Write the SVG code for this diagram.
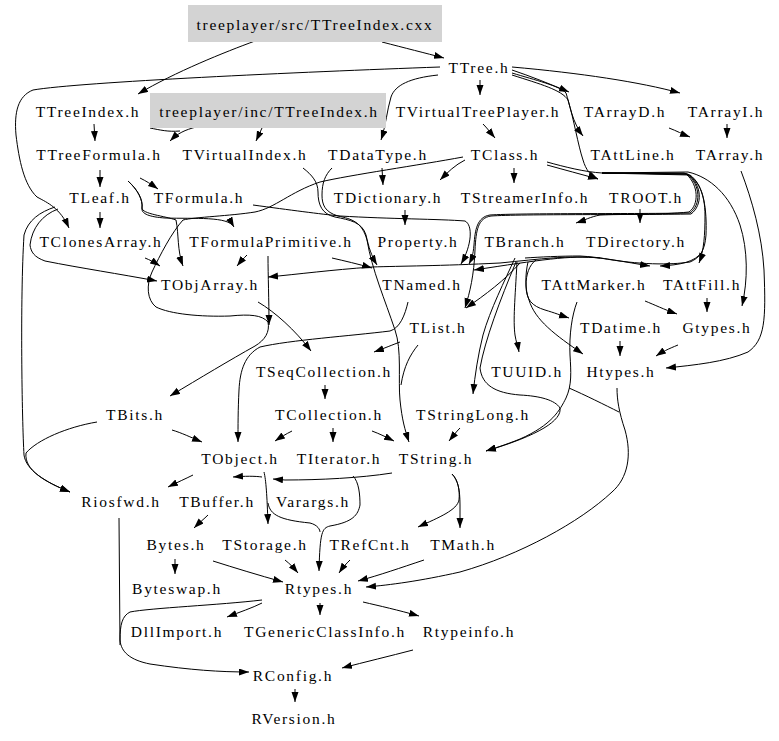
<svg xmlns="http://www.w3.org/2000/svg" width="779" height="741" viewBox="0 0 779 741">
<style>
text{font-family:"Liberation Serif","Times New Roman",serif;font-size:15.5px;letter-spacing:1.7px;fill:#000;text-anchor:middle}
.e{fill:none;stroke:#000;stroke-width:1;marker-end:url(#a)}
.j{fill:none;stroke:#000;stroke-width:1}
.g{fill:#d3d3d3;stroke:none}
</style>
<defs>
<marker id="a" markerWidth="10" markerHeight="8" refX="10" refY="3.5" orient="auto" markerUnits="userSpaceOnUse"><path d="M0,0 L10,3.5 L0,7 z" fill="#000"/></marker>
</defs>
<rect width="779" height="741" fill="#fff"/>
<g id="edges">
<path class="e" d="M255,41 C225,52 175,72 138,94"/>
<path class="e" d="M382,42 C405,48 425,53 444,58"/>
<path class="e" d="M440,67 C300,72 80,82 33,90 C18,96 14,112 16,135 C19,160 24,185 37,197 C48,203 60,208 69,228"/>
<path class="e" d="M438,75 C410,78 395,85 391,97 C387,110 386,125 381,140"/>
<path class="e" d="M480,80 L480,95"/>
<path class="e" d="M512,70 C530,76 550,84 569,92"/>
<path class="e" d="M512,73 C535,80 560,86 566,93 C570,105 572,122 583,136"/>
<path class="e" d="M512,67 C580,73 640,82 680,93"/>
<path class="e" d="M512,75 C540,84 562,90 568,100 C574,120 578,145 583,160 C586,170 590,175 598,179"/>
<path class="e" d="M669,128 C677,131 682,134 690,137"/>
<path class="e" d="M727,124 L727,138"/>
<path class="e" d="M483,124 C487,128 490,132 495,138"/>
<path class="e" d="M94,124 L95,141"/>
<path class="e" d="M196,127 C185,130 178,133 170,141"/>
<path class="j" d="M150,128 C160,130 168,132 180,131"/>
<path class="e" d="M262,128 L256,141"/>
<path class="e" d="M100,170 L100,187"/>
<path class="e" d="M140,178 C146,181 151,184 158,189"/>
<path class="e" d="M128,181 C138,190 143,200 142,208 C141,214 150,217 165,218 C195,219 228,216 234,227"/>
<path class="e" d="M128,181 C138,190 143,200 142,208 C142,214 165,216 176,220 C179,235 177,250 183,266"/>
<path class="e" d="M100,212 L100,228"/>
<path class="e" d="M55,207 C40,212 28,220 24,235 C20,300 22,420 24,455 C26,470 45,482 70,492"/>
<path class="e" d="M58,209 C42,215 32,228 30,245 C31,252 34,257 45,261 C80,268 120,274 157,281"/>
<path class="e" d="M97,422 C67,427 37,440 26,453 C24,470 45,482 70,492"/>
<path class="e" d="M145,258 C150,260 154,262 160,266"/>
<path class="e" d="M247,255 C244,258 241,261 237,266"/>
<path class="e" d="M463,157 C420,165 350,175 320,182 C290,192 275,208 255,212 C230,216 195,217 183,220 C172,232 160,255 152,272 C146,285 147,300 156,307 C170,314 200,317 230,316 C250,314 262,315 268,322 C270,332 265,340 255,346 C230,360 200,378 170,396"/>
<path class="e" d="M268,256 C268,275 269,300 269,325"/>
<path class="e" d="M465,160 C455,165 448,172 440,180"/>
<path class="e" d="M514,168 L514,183"/>
<path class="e" d="M547,165 C565,170 580,174 598,179"/>
<path class="j" d="M547,162 C565,167 585,172 602,173"/>
<path class="e" d="M382,168 L383,185"/>
<path class="e" d="M303,168 C312,175 318,182 318,192 C318,205 322,214 335,217 C350,220 362,222 366,235 C369,248 371,255 377,265"/>
<path class="e" d="M332,168 C325,175 322,183 322,195 C322,205 325,212 338,216 C352,219 362,222 367,240 C372,270 385,300 395,330 C402,350 398,380 400,400 C402,420 405,430 409,442"/>
<path class="e" d="M405,210 L405,225"/>
<path class="e" d="M253,205 C290,210 320,214 340,216 C390,219 440,219 465,221 C473,225 472,245 461,264"/>
<path class="e" d="M602,173 L688,172 C710,177 730,195 740,225 C748,250 748,280 742,306"/>
<path class="e" d="M602,173 L684,173 C699,178 705,195 705,215 C705,235 704,250 699,263"/>
<path class="e" d="M640,209 L640,223"/>
<path class="e" d="M602,173 L686,174 C699,185 699,205 689,212 C660,215 620,214 600,215 C590,217 585,220 576,223"/>
<path class="e" d="M602,173 L687,174 C701,185 701,205 690,213 C640,214 520,213 490,215 C477,217 475,230 474,245 C473,255 472,258 469,264"/>
<path class="e" d="M602,173 L688,174 C702,185 703,205 691,214 C640,215 520,214 491,216 C478,218 476,230 475,250 C474,275 470,292 465,308"/>
<path class="e" d="M602,173 L690,175 C704,185 707,210 706,235 C705,250 700,258 690,262 C670,265 640,265 600,258 C570,255 540,260 474,270"/>
<path class="e" d="M600,258 C570,255 540,259 500,263 C440,266 400,266 372,267 C330,270 300,274 268,277"/>
<path class="e" d="M702,252 C695,262 680,265 660,266"/>
<path class="e" d="M525,258 C540,257 560,256 580,256 C600,257 625,262 650,266"/>
<path class="e" d="M332,258 C345,261 358,264 372,268"/>
<path class="e" d="M520,263 C505,280 485,295 466,308"/>
<path class="e" d="M515,258 C505,280 490,310 483,335 C478,355 475,375 473,394"/>
<path class="e" d="M517,262 C515,300 513,320 515,335 C516,342 518,346 519,352"/>
<path class="e" d="M516,262 C500,300 485,340 480,368 C482,385 495,393 520,395 C540,396 555,400 560,408 C562,420 540,435 486,451"/>
<path class="e" d="M536,260 C529,265 526,275 526,285 C526,300 532,306 545,310 C555,313 560,315 569,318"/>
<path class="e" d="M528,262 C525,275 525,290 529,300 C535,320 555,335 583,354"/>
<path class="e" d="M645,301 C655,305 663,309 677,314"/>
<path class="e" d="M707,298 L707,312"/>
<path class="e" d="M577,302 C572,315 569,335 570,355 C571,372 572,385 566,398 C560,410 552,425 520,439 C505,445 495,448 486,451"/>
<path class="j" d="M569,388 C585,395 605,405 619,412"/>
<path class="e" d="M620,341 L620,356"/>
<path class="e" d="M678,345 C668,349 662,352 656,356"/>
<path class="e" d="M741,171 C752,200 762,235 764,270 C766,320 765,340 748,352 C725,362 695,365 666,368"/>
<path class="e" d="M617,388 C617,400 619,412 625,430 C632,455 628,478 612,492 C580,522 520,555 460,572 C420,581 390,585 366,587"/>
<path class="e" d="M400,342 C392,345 385,348 374,352"/>
<path class="e" d="M258,302 C275,312 295,330 311,351"/>
<path class="e" d="M325,385 L325,399"/>
<path class="e" d="M292,431 C286,434 281,437 275,441"/>
<path class="e" d="M333,428 L333,442"/>
<path class="e" d="M372,431 C380,434 386,437 394,441"/>
<path class="e" d="M460,428 C456,432 453,436 449,441"/>
<path class="e" d="M172,430 C182,433 190,437 202,442"/>
<path class="e" d="M408,302 C405,315 400,328 390,331 C350,336 290,340 260,347 C245,355 240,370 239,390 C238,410 238,425 238,442"/>
<path class="j" d="M418,345 C410,355 404,366 401,385"/>
<path class="e" d="M193,475 C185,479 178,482 168,487"/>
<path class="e" d="M392,473 C360,478 320,480 285,480 L273,479"/>
<path class="e" d="M262,477 C255,476 245,476 233,477"/>
<path class="e" d="M264,472 C266,480 267,495 268,524"/>
<path class="j" d="M268,503 C270,515 280,520 310,523 C318,525 320,530 320,532"/>
<path class="e" d="M353,476 C359,482 360,495 360,505 C358,515 353,522 330,526 C322,528 320,532 319,571"/>
<path class="e" d="M452,474 C458,480 460,490 459,500 C457,510 440,517 418,527"/>
<path class="e" d="M452,474 C458,480 460,490 460,505 L460,528"/>
<path class="e" d="M208,515 C204,519 200,522 194,528"/>
<path class="e" d="M175,559 L175,574"/>
<path class="e" d="M213,561 C235,568 258,575 283,582"/>
<path class="e" d="M285,560 C290,564 293,567 298,573"/>
<path class="e" d="M350,560 C346,564 343,567 339,573"/>
<path class="e" d="M424,560 C400,568 380,575 358,581"/>
<path class="e" d="M262,603 C252,608 240,612 227,617"/>
<path class="e" d="M320,603 L320,615"/>
<path class="e" d="M363,602 C380,606 398,610 419,616"/>
<path class="e" d="M262,600 C220,605 150,608 130,612 C122,616 120,625 120,640 C121,652 130,660 150,664 C190,670 220,672 249,672"/>
<path class="j" d="M119,518 L120,645"/>
<path class="e" d="M413,650 C390,656 365,662 342,668"/>
<path class="e" d="M295,689 L295,702"/>
</g>
<g id="n_cxx"><rect class="g" x="188" y="5" width="254" height="37"/><text x="315" y="30">treeplayer/src/TTreeIndex.cxx</text></g>
<g id="n_TTree"><text x="479" y="73">TTree.h</text></g>
<g id="n_TTreeIndex"><text x="88" y="117">TTreeIndex.h</text></g>
<g id="n_inc"><rect class="g" x="150" y="93" width="236" height="35"/><text x="269" y="117">treeplayer/inc/TTreeIndex.h</text></g>
<g id="n_TVirtualTreePlayer"><text x="478" y="117">TVirtualTreePlayer.h</text></g>
<g id="n_TArrayD"><text x="625" y="117">TArrayD.h</text></g>
<g id="n_TArrayI"><text x="726" y="117">TArrayI.h</text></g>
<g id="n_TTreeFormula"><text x="99" y="160">TTreeFormula.h</text></g>
<g id="n_TVirtualIndex"><text x="245" y="160">TVirtualIndex.h</text></g>
<g id="n_TDataType"><text x="378" y="160">TDataType.h</text></g>
<g id="n_TClass"><text x="505" y="160">TClass.h</text></g>
<g id="n_TAttLine"><text x="633" y="160">TAttLine.h</text></g>
<g id="n_TArray"><text x="730" y="160">TArray.h</text></g>
<g id="n_TLeaf"><text x="100" y="203">TLeaf.h</text></g>
<g id="n_TFormula"><text x="199" y="203">TFormula.h</text></g>
<g id="n_TDictionary"><text x="388" y="203">TDictionary.h</text></g>
<g id="n_TStreamerInfo"><text x="525" y="203">TStreamerInfo.h</text></g>
<g id="n_TROOT"><text x="646" y="203">TROOT.h</text></g>
<g id="n_TClonesArray"><text x="101" y="247">TClonesArray.h</text></g>
<g id="n_TFormulaPrimitive"><text x="271" y="247">TFormulaPrimitive.h</text></g>
<g id="n_Property"><text x="418" y="247">Property.h</text></g>
<g id="n_TBranch"><text x="525" y="247">TBranch.h</text></g>
<g id="n_TDirectory"><text x="636" y="247">TDirectory.h</text></g>
<g id="n_TObjArray"><text x="210" y="290">TObjArray.h</text></g>
<g id="n_TNamed"><text x="422" y="290">TNamed.h</text></g>
<g id="n_TAttMarker"><text x="594" y="290">TAttMarker.h</text></g>
<g id="n_TAttFill"><text x="702" y="290">TAttFill.h</text></g>
<g id="n_TList"><text x="438" y="333">TList.h</text></g>
<g id="n_TDatime"><text x="621" y="333">TDatime.h</text></g>
<g id="n_Gtypes"><text x="717" y="333">Gtypes.h</text></g>
<g id="n_TSeqCollection"><text x="324" y="377">TSeqCollection.h</text></g>
<g id="n_TUUID"><text x="527" y="377">TUUID.h</text></g>
<g id="n_Htypes"><text x="621" y="377">Htypes.h</text></g>
<g id="n_TBits"><text x="135" y="420">TBits.h</text></g>
<g id="n_TCollection"><text x="329" y="420">TCollection.h</text></g>
<g id="n_TStringLong"><text x="473" y="420">TStringLong.h</text></g>
<g id="n_TObject"><text x="240" y="464">TObject.h</text></g>
<g id="n_TIterator"><text x="339" y="464">TIterator.h</text></g>
<g id="n_TString"><text x="436" y="464">TString.h</text></g>
<g id="n_Riosfwd"><text x="121" y="507">Riosfwd.h</text></g>
<g id="n_TBuffer"><text x="217" y="507">TBuffer.h</text></g>
<g id="n_Varargs"><text x="313" y="507">Varargs.h</text></g>
<g id="n_Bytes"><text x="176" y="550">Bytes.h</text></g>
<g id="n_TStorage"><text x="265" y="550">TStorage.h</text></g>
<g id="n_TRefCnt"><text x="370" y="550">TRefCnt.h</text></g>
<g id="n_TMath"><text x="463" y="550">TMath.h</text></g>
<g id="n_Byteswap"><text x="177" y="594">Byteswap.h</text></g>
<g id="n_Rtypes"><text x="319" y="594">Rtypes.h</text></g>
<g id="n_DllImport"><text x="177" y="637">DllImport.h</text></g>
<g id="n_TGenericClassInfo"><text x="325" y="637">TGenericClassInfo.h</text></g>
<g id="n_Rtypeinfo"><text x="469" y="637">Rtypeinfo.h</text></g>
<g id="n_RConfig"><text x="293" y="681">RConfig.h</text></g>
<g id="n_RVersion"><text x="294" y="724">RVersion.h</text></g>
</svg>
